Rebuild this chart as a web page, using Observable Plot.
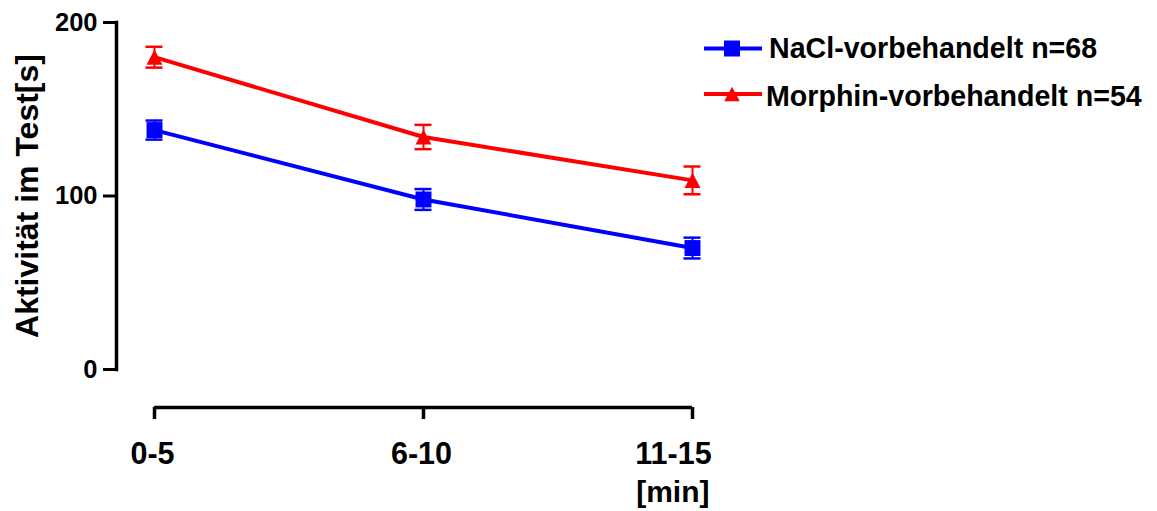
<!DOCTYPE html>
<html>
<head>
<meta charset="utf-8">
<script src="https://cdn.jsdelivr.net/npm/d3@7"></script>
<script src="https://cdn.jsdelivr.net/npm/@observablehq/plot@0.6"></script>
<style>
  body { margin: 0; background: #fff; }
  #wrap { position: relative; width: 1157px; height: 511px; font-family: "Liberation Sans", Arial, sans-serif; font-weight: bold; }
  #legend { position: absolute; left: 0; top: 0; pointer-events: none; }
</style>
</head>
<body>
<div id="wrap"></div>
<script>
// ---- data ----
const times = ["0-5", "6-10", "11-15"];
const groups = ["NaCl-vorbehandelt n=68", "Morphin-vorbehandelt n=54"];
const colors = ["#0000FF", "#FF0000"];
const naclMean = [138, 98, 70];
const naclSem = [5.5, 6, 6];
const morphMean = [180, 134, 109];
const morphSem = [6, 7, 8];
const yTicks = [0, 100, 200];
const yLabel = "Aktivität im Test[s]";
const xUnit = "[min]";

const rows = [];
times.forEach((t, i) => rows.push({time: t, group: groups[0], value: naclMean[i], sem: naclSem[i]}));
times.forEach((t, i) => rows.push({time: t, group: groups[1], value: morphMean[i], sem: morphSem[i]}));

const triangle = {
  draw(ctx, size) {
    const s = Math.sqrt(size);
    const w = s * 1.0, h = s * 0.95;
    ctx.moveTo(0, -h / 2);
    ctx.lineTo(w / 2, h / 2);
    ctx.lineTo(-w / 2, h / 2);
    ctx.closePath();
  }
};
const square = d3.symbolSquare;

const font = "'Liberation Sans', Arial, sans-serif";

const chart = Plot.plot({
  width: 1157,
  height: 511,
  marginLeft: 116,
  marginRight: 465,
  marginTop: 22,
  marginBottom: 142,
  style: {fontFamily: font, fontWeight: "bold", color: "#000", background: "#fff"},
  x: {type: "point", domain: times, padding: 0, insetLeft: 38},
  y: {domain: [0, 200]},
  color: {domain: groups, range: colors},
  symbol: {domain: groups, range: [square, triangle]},
  marks: [
    Plot.frame({anchor: "left", strokeWidth: 3.5, stroke: "#000"}),
    Plot.axisY({ticks: yTicks, tickSize: 13, tickPadding: 6, fontSize: 25.5, fontWeight: "bold", strokeWidth: 3, label: null, stroke: "#000"}),
    Plot.ruleY([0], {x1: () => times[0], x2: () => times[times.length - 1], dy: 38, strokeWidth: 3.5, stroke: "#000"}),
    Plot.axisX({ticks: times, tickSize: 12, tickFormat: () => "", dy: 38, strokeWidth: 3.5, label: null, stroke: "#000"}),
    Plot.axisX({ticks: times.slice(0, 2), tickSize: 12, tickPadding: 23, dy: 38, dx: -2, fontSize: 30.5, fontWeight: "bold", strokeOpacity: 0, label: null}),
    Plot.axisX({ticks: times.slice(2), tickSize: 12, tickPadding: 23, dy: 38, dx: -19, fontSize: 30.5, fontWeight: "bold", strokeOpacity: 0, label: null}),
    Plot.text([xUnit], {text: d => d, frameAnchor: "bottom-right", textAnchor: "end", lineAnchor: "middle", dx: 17, dy: 123, fontSize: 30, fontWeight: "bold", fill: "#000"}),
    Plot.text([yLabel], {text: d => d, frameAnchor: "left", rotate: -90, textAnchor: "middle", lineAnchor: "middle", dx: -89, fontSize: 32, fontWeight: "bold", fill: "#000"}),
    Plot.line(rows, {x: "time", y: "value", z: "group", stroke: "group", strokeWidth: 4}),
    Plot.ruleX(rows, {x: "time", y1: d => d.value - d.sem, y2: d => d.value + d.sem, stroke: "group", strokeWidth: 2}),
    Plot.ruleY(rows, {x1: "time", x2: "time", y: d => d.value + d.sem, stroke: "group", strokeWidth: 2.5, insetLeft: -8.5, insetRight: -8.5}),
    Plot.ruleY(rows, {x1: "time", x2: "time", y: d => d.value - d.sem, stroke: "group", strokeWidth: 2.5, insetLeft: -8.5, insetRight: -8.5}),
    Plot.dot(rows, {x: "time", y: "value", symbol: "group", fill: "group", r: 9, stroke: "none"})
  ]
});

const wrap = document.getElementById("wrap");
wrap.appendChild(chart);

// ---- legend ----
const leg = d3.select(wrap).append("svg")
  .attr("id", "legend")
  .attr("width", 1157).attr("height", 511);
const legendRows = [
  {name: groups[0], color: colors[0], sym: square, ly: 48.5, ty: 58, tx: 769},
  {name: groups[1], color: colors[1], sym: triangle, ly: 94, ty: 106, tx: 766}
];
legendRows.forEach(r => {
  const g = leg.append("g");
  g.append("line").attr("x1", 704).attr("x2", 762).attr("y1", r.ly).attr("y2", r.ly)
    .attr("stroke", r.color).attr("stroke-width", 4);
  g.append("path").attr("d", d3.symbol(r.sym, r.sym === square ? 256 : 240)())
    .attr("transform", `translate(732,${r.ly})`).attr("fill", r.color);
  g.append("text").attr("x", r.tx).attr("y", r.ty).text(r.name)
    .attr("font-family", font).attr("font-weight", "bold").attr("font-size", 28.6).attr("fill", "#000");
});
</script>
</body>
</html>
